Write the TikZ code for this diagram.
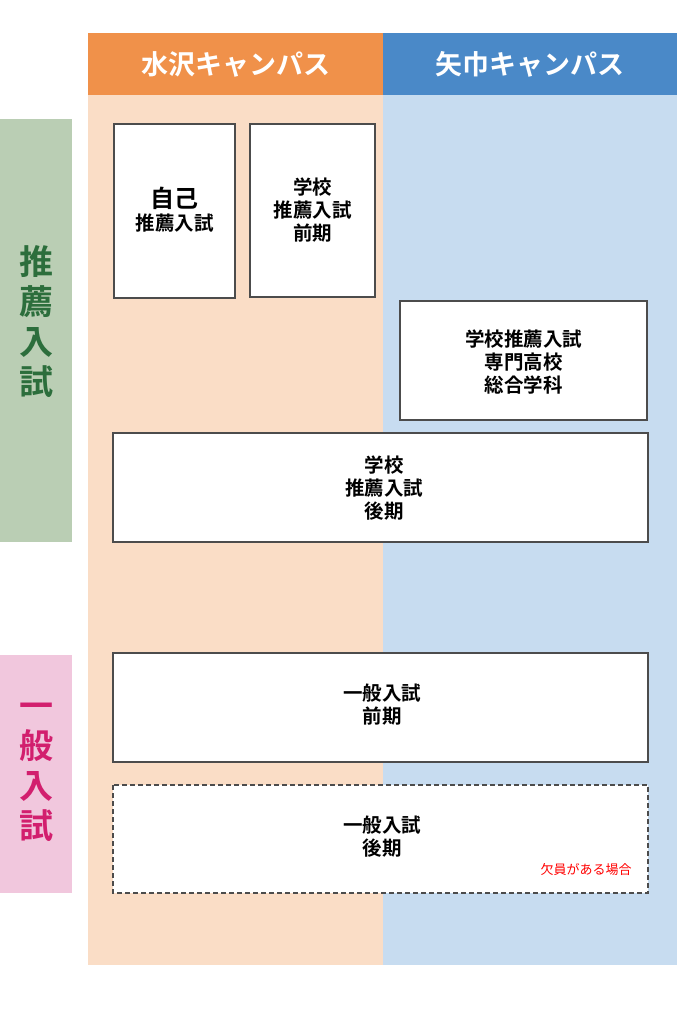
\documentclass[tikz,border=0pt]{standalone}
\usepackage{fontspec}
\setmainfont{Noto Sans CJK JP}[BoldFont={Noto Sans CJK JP Bold}]
\usetikzlibrary{positioning}
\definecolor{mizuhead}{HTML}{F0914A}
\definecolor{mizubg}{HTML}{FADDC6}
\definecolor{yahahead}{HTML}{4A89C8}
\definecolor{yahabg}{HTML}{C7DCF0}
\definecolor{suiband}{HTML}{BACEB4}
\definecolor{suitext}{HTML}{2C6E3C}
\definecolor{ippanband}{HTML}{F1C7DD}
\definecolor{ippantext}{HTML}{D21F6E}
\tikzset{
  exambox/.style={draw=black!70,line width=1.2pt,fill=white},
  examtext/.style={font=\bfseries\fontsize{19.5}{23}\selectfont,align=center},
  headtext/.style={font=\bfseries\fontsize{27}{30}\selectfont,text=white},
  sidetext/.style={font=\bfseries\fontsize{34}{40}\selectfont,align=center}
}
\begin{document}
\begin{tikzpicture}[x=1pt,y=-1pt]
		\useasboundingbox (0,0) rectangle (678,1024);
		% campus columns
		\fill[mizubg] (88,95) rectangle (383,965);
		\fill[yahabg] (383,95) rectangle (677,965);
		\fill[mizuhead] (88,33) rectangle (383,95);
		\fill[yahahead] (383,33) rectangle (677,95);
		\node[headtext] (mizu) at (235.5,64) {水沢キャンパス};
		\node[headtext] (yaha) at (530,64) {矢巾キャンパス};

		% side bands
		\fill[suiband] (0,119) rectangle (72,542);
		\fill[ippanband] (0,655) rectangle (72,893);
		\node[sidetext,text=suitext] (sui) at (36,322) {推\\薦\\入\\試};
		\node[sidetext,text=ippantext] (ippan) at (36,772) {一\\般\\入\\試};

		% exam boxes
		\draw[exambox] (114,124) rectangle (235,298);
		\node[examtext] (jiko) at (174.5,210) {{\fontsize{24}{27}\selectfont 自己}\\推薦入試};
		\draw[exambox] (250,124) rectangle (375,297);
		\node[examtext] (zenki) at (312.5,210) {学校\\推薦入試\\前期};
		\draw[exambox] (400,301) rectangle (647,420);
		\node[examtext] (senmon) at (523.5,362) {学校推薦入試\\専門高校\\総合学科};
		\draw[exambox] (113,433) rectangle (648,542);
		\node[examtext] (kouki) at (384,488) {学校\\推薦入試\\後期};
		\draw[exambox] (113,653) rectangle (648,762);
		\node[examtext] (ippanzen) at (382,705) {一般入試\\前期};
		\draw[exambox,dash pattern=on 5pt off 3pt] (113,785) rectangle (648,893);
		\node[examtext] (ippanko) at (382,837) {一般入試\\後期};
		\node[text=red,font=\fontsize{13}{15}\selectfont] (ketsuin) at (586,870) {欠員がある場合};
\end{tikzpicture}
\end{document}
